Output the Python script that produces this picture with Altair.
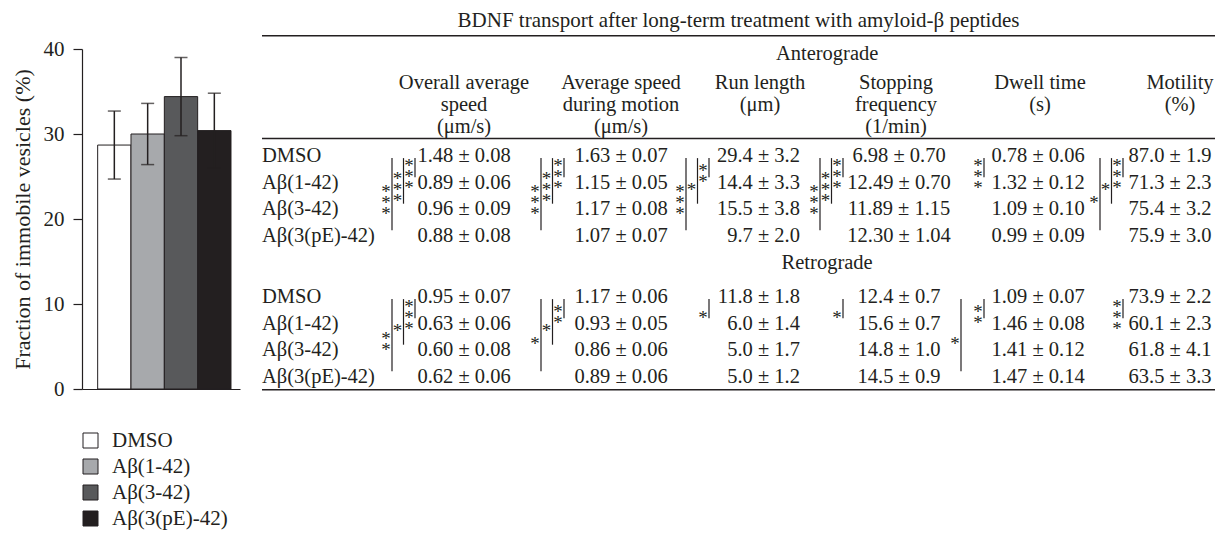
import altair as alt
import pandas as pd

# ---------------------------------------------------------------- data
groups = ["DMSO", "Aβ(1-42)", "Aβ(3-42)", "Aβ(3(pE)-42)"]
group_colors = ["#ffffff", "#a7a9ac", "#58595b", "#231f20"]
immobile_mean = [28.7, 30.0, 34.4, 30.4]
immobile_err = [4.0, 3.6, 4.6, 4.4]
y_ticks = [0, 10, 20, 30, 40]

table_title = "BDNF transport after long-term treatment with amyloid-β peptides"
sections = ["Anterograde", "Retrograde"]
header_lines = [
    ["Overall average", "speed", "(μm/s)"],
    ["Average speed", "during motion", "(μm/s)"],
    ["Run length", "(μm)"],
    ["Stopping", "frequency", "(1/min)"],
    ["Dwell time", "(s)"],
    ["Motility", "(%)"],
]

# one inner list per column, one value per group (DMSO, 1-42, 3-42, 3(pE)-42)
antero_mean = [
    [1.48, 0.89, 0.96, 0.88],
    [1.63, 1.15, 1.17, 1.07],
    [29.4, 14.4, 15.5, 9.7],
    [6.98, 12.49, 11.89, 12.30],
    [0.78, 1.32, 1.09, 0.99],
    [87.0, 71.3, 75.4, 75.9],
]
antero_err = [
    [0.08, 0.06, 0.09, 0.08],
    [0.07, 0.05, 0.08, 0.07],
    [3.2, 3.3, 3.8, 2.0],
    [0.70, 0.70, 1.15, 1.04],
    [0.06, 0.12, 0.10, 0.09],
    [1.9, 2.3, 3.2, 3.0],
]
antero_decimals = [2, 2, 1, 2, 2, 1]

retro_mean = [
    [0.95, 0.63, 0.60, 0.62],
    [1.17, 0.93, 0.86, 0.89],
    [11.8, 6.0, 5.0, 5.0],
    [12.4, 15.6, 14.8, 14.5],
    [1.09, 1.46, 1.41, 1.47],
    [73.9, 60.1, 61.8, 63.5],
]
retro_err = [
    [0.07, 0.06, 0.08, 0.06],
    [0.06, 0.05, 0.06, 0.06],
    [1.8, 1.4, 1.7, 1.2],
    [0.7, 0.7, 1.0, 0.9],
    [0.07, 0.08, 0.12, 0.14],
    [2.2, 2.3, 4.1, 3.3],
]
retro_decimals = [2, 2, 1, 1, 2, 1]

# significance brackets vs DMSO: column index, compared group index, number of stars
antero_sig_col = [0, 0, 0, 1, 1, 1, 2, 2, 2, 3, 3, 3, 4, 5, 5, 5]
antero_sig_vs = [1, 2, 3, 1, 2, 3, 1, 2, 3, 1, 2, 3, 1, 1, 2, 3]
antero_sig_stars = [3, 3, 3, 3, 3, 3, 2, 1, 3, 3, 3, 3, 3, 3, 1, 1]
retro_sig_col = [0, 0, 0, 1, 1, 1, 2, 3, 4, 4, 5]
retro_sig_vs = [1, 2, 3, 1, 2, 3, 1, 1, 1, 3, 1]
retro_sig_stars = [3, 1, 2, 2, 1, 1, 1, 1, 2, 1, 3]

# ---------------------------------------------------------------- layout / style
W, H = 1207, 522
FONT = "Liberation Serif"
INK = "#231f20"
FS = 20.5

# table: text-line index -> vertical pixel
line_px = [13, 46, 75, 97, 119, 148, 174.5, 201, 227.5, 255, 289, 315.5, 342, 368.5, 395]
section_line = [1, 9]
first_row_line = [5, 10]
header_first_line = 2
rule_lines = [0.45, 4.4, 13.5]
table_span = [254, 1207]
title_pos = 0.5
section_pos = 0.593
header_center_px = [456, 613, 752, 888, 1032, 1172]
value_anchor_px = [456, 613, 792, 891, 1030, 1162]
value_align = ["center", "center", "right", "center", "center", "center"]
bracket_px = [407, 556, 701, 835, 976, 1115]
bracket_step = 11.5
star_step = 0.41  # in table-line units

# ---------------------------------------------------------------- tables for the library
bar_df = pd.DataFrame({"group": groups, "mean": immobile_mean, "err": immobile_err})
bar_df["lo"] = bar_df["mean"] - bar_df["err"]
bar_df["hi"] = bar_df["mean"] + bar_df["err"]

row_recs, val_recs, br_recs, star_recs = [], [], [], []
for s, (means, errs, decs, scol, svs, sst) in enumerate([
    (antero_mean, antero_err, antero_decimals, antero_sig_col, antero_sig_vs, antero_sig_stars),
    (retro_mean, retro_err, retro_decimals, retro_sig_col, retro_sig_vs, retro_sig_stars),
]):
    for g, name in enumerate(groups):
        row_recs.append({"line": first_row_line[s] + g, "pos": 0, "text": name})
    for c in range(len(header_lines)):
        d = decs[c]
        for g in range(len(groups)):
            val_recs.append({
                "col": c + 1,
                "line": first_row_line[s] + g,
                "text": f"{means[c][g]:.{d}f} ± {errs[c][g]:.{d}f}",
                "align": value_align[c],
            })
    for c, v, n in zip(scol, svs, sst):
        top = first_row_line[s] + 0.08
        bot = first_row_line[s] + v - 0.2
        bx = c + 1 - 0.1 * (v - 1)
        br_recs.append({"bx": bx, "top": top, "bot": bot})
        mid = (top + bot) / 2
        for k in range(n):
            star_recs.append({"bx": bx, "y": mid + (k - (n - 1) / 2) * star_step, "t": "*"})

rows_df = pd.DataFrame(row_recs)
vals_df = pd.DataFrame(val_recs)
br_df = pd.DataFrame(br_recs)
star_df = pd.DataFrame(star_recs)
head_df = pd.DataFrame([
    {"col": c + 1, "line": header_first_line + k, "text": t}
    for c, lines in enumerate(header_lines) for k, t in enumerate(lines)
])
span_df = pd.DataFrame({
    "text": [table_title] + sections,
    "line": [0] + section_line,
    "pos": [title_pos, section_pos, section_pos],
    "size": [21, FS, FS],
})
rule_df = pd.DataFrame({"line": rule_lines, "x0": [0] * 3, "x1": [1] * 3})

# ---------------------------------------------------------------- scales
y_tab = alt.Scale(domain=list(range(len(line_px))), range=line_px, nice=False, zero=False)
frac = alt.Scale(domain=[0, 1], range=table_span, nice=False, zero=False)


def col_scale(px):
    return alt.Scale(domain=list(range(1, 7)), range=px, nice=False, zero=False)


br_dom, br_rng = [], []
for i, p in enumerate(bracket_px):
    br_dom += [i + 1 - 0.2, i + 1]
    br_rng += [p - 2 * bracket_step, p]
br_scale = alt.Scale(domain=br_dom, range=br_rng, nice=False, zero=False)

bar_x_scale = alt.Scale(domain=groups, range=[74, 232], paddingInner=0, paddingOuter=0.37, align=0.635)
bar_y_scale = alt.Scale(domain=[0, 40], range=[381, 41], nice=False, zero=False)

# ---------------------------------------------------------------- bar chart
bars = alt.Chart(bar_df).mark_bar(stroke=INK, strokeWidth=1).encode(
    x=alt.X("group:N", sort=groups, scale=bar_x_scale,
            axis=alt.Axis(title=None, labels=False, ticks=False, grid=False, offset=-141,
                          domainColor=INK, domainWidth=1.2)),
    y=alt.Y("mean:Q", scale=bar_y_scale,
            axis=alt.Axis(values=y_ticks, title="Fraction of immobile vesicles (%)", offset=-74,
                          tickSize=9, labelPadding=9, titlePadding=9, grid=False,
                          domainColor=INK, tickColor=INK, domainWidth=1.2, tickWidth=1.2,
                          labelFont=FONT, labelFontSize=21, labelColor=INK,
                          titleFont=FONT, titleFontSize=22, titleFontWeight="normal", titleColor=INK)),
    fill=alt.Fill("group:N", sort=groups, scale=alt.Scale(domain=groups, range=group_colors),
                  legend=alt.Legend(orient="none", legendX=72, legendY=422, title=None,
                                    symbolType="square", symbolSize=225, symbolStrokeColor=INK,
                                    symbolStrokeWidth=1, labelFont=FONT, labelFontSize=21,
                                    labelColor=INK, rowPadding=4, labelOffset=11, padding=0)),
)

err_rule = alt.Chart(bar_df).mark_rule(color=INK, strokeWidth=1.5).encode(
    x=alt.X("group:N", sort=groups, scale=bar_x_scale, axis=None),
    y=alt.Y("lo:Q", scale=bar_y_scale, axis=None),
    y2="hi:Q",
)
err_caps = alt.Chart(bar_df).transform_fold(["lo", "hi"], as_=["end", "v"]).mark_tick(
    color=INK, thickness=1.5, size=13, orient="horizontal").encode(
    x=alt.X("group:N", sort=groups, scale=bar_x_scale, axis=None),
    y=alt.Y("v:Q", scale=bar_y_scale, axis=None),
)

# ---------------------------------------------------------------- table
txt = dict(font=FONT, fontSize=FS, color=INK, baseline="middle")

spanners = alt.Chart(span_df).mark_text(align="center", font=FONT, color=INK, baseline="middle").encode(
    x=alt.X("pos:Q", scale=frac, axis=None),
    y=alt.Y("line:Q", scale=y_tab, axis=None),
    text="text:N",
    size=alt.Size("size:Q", scale=None, legend=None),
)
rules = alt.Chart(rule_df).mark_rule(color=INK, strokeWidth=1.5).encode(
    x=alt.X("x0:Q", scale=frac, axis=None),
    x2="x1:Q",
    y=alt.Y("line:Q", scale=y_tab, axis=None),
)
headers = alt.Chart(head_df).mark_text(align="center", **txt).encode(
    x=alt.X("col:Q", scale=col_scale(header_center_px), axis=None),
    y=alt.Y("line:Q", scale=y_tab, axis=None),
    text="text:N",
)
row_labels = alt.Chart(rows_df).mark_text(align="left", **txt).encode(
    x=alt.X("pos:Q", scale=frac, axis=None),
    y=alt.Y("line:Q", scale=y_tab, axis=None),
    text="text:N",
)
vals_center = alt.Chart(vals_df).transform_filter(alt.datum.align == "center").mark_text(
    align="center", **txt).encode(
    x=alt.X("col:Q", scale=col_scale(value_anchor_px), axis=None),
    y=alt.Y("line:Q", scale=y_tab, axis=None),
    text="text:N",
)
vals_right = alt.Chart(vals_df).transform_filter(alt.datum.align == "right").mark_text(
    align="right", **txt).encode(
    x=alt.X("col:Q", scale=col_scale(value_anchor_px), axis=None),
    y=alt.Y("line:Q", scale=y_tab, axis=None),
    text="text:N",
)
br_lines = alt.Chart(br_df).mark_rule(color=INK, strokeWidth=1.2).encode(
    x=alt.X("bx:Q", scale=br_scale, axis=None),
    y=alt.Y("top:Q", scale=y_tab, axis=None),
    y2="bot:Q",
)
br_stars = alt.Chart(star_df).mark_text(
    align="center", baseline="middle", font=FONT, fontSize=19, color=INK,
    dx=-6, dy=9, angle=0.01).encode(
    x=alt.X("bx:Q", scale=br_scale, axis=None),
    y=alt.Y("y:Q", scale=y_tab, axis=None),
    text="t:N",
)

chart = alt.layer(
    bars, err_rule, err_caps,
    spanners, rules, headers, row_labels, vals_center, vals_right, br_lines, br_stars,
).resolve_scale(
    x="independent", y="independent", size="independent"
).properties(
    width=W, height=H, padding=0, autosize=alt.AutoSizeParams(type="none"),
).configure_view(strokeWidth=0)

chart.save("out.html", embed_options={"renderer": "svg", "actions": False})
